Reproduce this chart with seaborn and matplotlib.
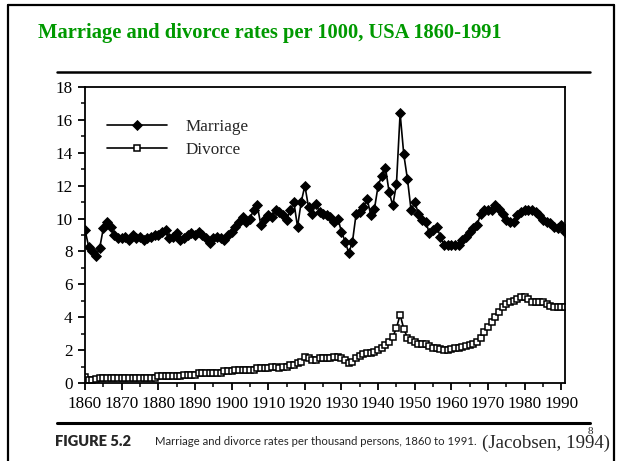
import numpy as np
import pandas as pd
import matplotlib
matplotlib.use("Agg")
import matplotlib.pyplot as plt
from matplotlib.lines import Line2D
from matplotlib.ticker import MultipleLocator
import seaborn as sns

# ---------------- data ----------------
years = list(range(1860, 1992))

marriage = [
    9.3, 8.3, 8.0, 7.7, 8.2, 9.4, 9.8, 9.5, 9.0, 8.8,      # 1860-1869
    8.8, 8.9, 8.7, 9.0, 8.8, 8.9, 8.7, 8.8, 8.9, 9.0,      # 1870-1879
    9.0, 9.2, 9.3, 8.8, 8.9, 9.1, 8.7, 8.8, 9.0, 9.1,      # 1880-1889
    9.0, 9.2, 9.0, 8.8, 8.5, 8.8, 8.9, 8.8, 8.7, 9.0,      # 1890-1899
    9.2, 9.5, 9.8, 10.1, 9.8, 10.0, 10.5, 10.8, 9.6, 10.0, # 1900-1909
    10.2, 10.1, 10.5, 10.4, 10.2, 9.9, 10.5, 11.0, 9.5, 11.0,  # 1910-1919
    12.0, 10.7, 10.3, 10.9, 10.4, 10.3, 10.2, 10.1, 9.8, 10.0, # 1920-1929
    9.2, 8.6, 7.9, 8.6, 10.3, 10.4, 10.7, 11.2, 10.2, 10.6,    # 1930-1939
    12.0, 12.6, 13.1, 11.6, 10.8, 12.1, 16.4, 13.9, 12.4, 10.5, # 1940-1949
    11.0, 10.3, 9.9, 9.8, 9.1, 9.3, 9.5, 8.9, 8.4, 8.4,         # 1950-1959
    8.4, 8.4, 8.4, 8.7, 8.9, 9.2, 9.4, 9.6, 10.3, 10.5,         # 1960-1969
    10.5, 10.5, 10.8, 10.6, 10.3, 9.9, 9.8, 9.8, 10.2, 10.4,    # 1970-1979
    10.5, 10.5, 10.5, 10.4, 10.2, 9.9, 9.8, 9.7, 9.5, 9.4,      # 1980-1989
    9.6, 9.2,                                                   # 1990-1991
]

divorce = [
    0.35, 0.2, 0.2, 0.25, 0.3, 0.3, 0.3, 0.3, 0.3, 0.3,    # 1860-1869
    0.3, 0.3, 0.3, 0.3, 0.3, 0.3, 0.3, 0.3, 0.3, 0.3,      # 1870-1879
    0.4, 0.4, 0.4, 0.4, 0.4, 0.4, 0.4, 0.5, 0.5, 0.5,      # 1880-1889
    0.5, 0.6, 0.6, 0.6, 0.6, 0.6, 0.6, 0.6, 0.7, 0.7,      # 1890-1899
    0.7, 0.8, 0.8, 0.8, 0.8, 0.8, 0.8, 0.9, 0.9, 0.9,      # 1900-1909
    0.9, 1.0, 1.0, 0.9, 1.0, 1.0, 1.1, 1.1, 1.2, 1.3,      # 1910-1919
    1.6, 1.5, 1.4, 1.4, 1.5, 1.5, 1.5, 1.55, 1.6, 1.6,     # 1920-1929
    1.5, 1.4, 1.2, 1.25, 1.5, 1.65, 1.75, 1.8, 1.85, 1.9,  # 1930-1939
    2.0, 2.1, 2.3, 2.5, 2.8, 3.35, 4.15, 3.3, 2.75, 2.6,   # 1940-1949
    2.5, 2.4, 2.4, 2.35, 2.25, 2.15, 2.1, 2.05, 2.0, 2.0,  # 1950-1959
    2.05, 2.1, 2.1, 2.2, 2.25, 2.3, 2.4, 2.5, 2.75, 3.1,   # 1960-1969
    3.4, 3.7, 4.0, 4.3, 4.6, 4.8, 4.95, 5.0, 5.1, 5.25,    # 1970-1979
    5.2, 5.1, 4.95, 4.9, 4.9, 4.9, 4.8, 4.7, 4.65, 4.6,    # 1980-1989
    4.6, 4.6,                                              # 1990-1991
]

x_tick_values = list(range(1860, 1991, 10))
y_tick_values = list(range(0, 19, 2))
series_labels = ["Marriage", "Divorce"]

title_text = "Marriage and divorce rates per 1000, USA 1860-1991"
caption_head = "FIGURE 5.2"
caption_body = "Marriage and divorce rates per thousand persons, 1860 to 1991."
source_text = "(Jacobsen, 1994)"
slide_number = "8"

df = pd.DataFrame({"year": years, "marriage": marriage, "divorce": divorce})

# ---------------- style ----------------
sns.set_style("ticks")
plt.rcParams["font.family"] = ["Liberation Serif", "DejaVu Serif"]
plt.rcParams["axes.linewidth"] = 1.2

fig = plt.figure(figsize=(6.2, 4.61), dpi=100)
ax = fig.add_axes([85 / 620, 1 - 383 / 461, 480 / 620, 296 / 461])

sns.lineplot(data=df, x="year", y="marriage", ax=ax, color="black",
             linewidth=1.2, marker="D", markersize=4.8,
             markerfacecolor="black", markeredgecolor="black",
             markeredgewidth=0.6, label=series_labels[0])
sns.lineplot(data=df, x="year", y="divorce", ax=ax, color="black",
             linewidth=1.2, marker="s", markersize=5.0,
             markerfacecolor="white", markeredgecolor="black",
             markeredgewidth=1.1, label=series_labels[1])

ax.set_xlim(1860, 1991)
ax.set_ylim(0, 18)
ax.set_xticks(x_tick_values)
ax.set_xticklabels([str(v) for v in x_tick_values])
ax.set_yticks(y_tick_values)
ax.set_yticklabels([str(v) for v in y_tick_values])
ax.xaxis.set_minor_locator(MultipleLocator(5))
ax.yaxis.set_minor_locator(MultipleLocator(1))
ax.tick_params(axis="both", which="major", direction="out", length=5,
               width=1.3, labelsize=12.3, colors="black", pad=4)
ax.tick_params(axis="both", which="minor", direction="out", length=3,
               width=1.1, colors="black")
ax.set_xlabel("")
ax.set_ylabel("")
for s in ax.spines.values():
    s.set_visible(True)
    s.set_color("black")
    s.set_linewidth(1.3)

leg = ax.legend(loc="upper left", bbox_to_anchor=(0.046, 0.893),
                frameon=False, fontsize=12.3, handlelength=3.5,
                handletextpad=1.1, labelspacing=0.4, borderpad=0,
                borderaxespad=0, numpoints=1)

# ---------------- slide decorations ----------------
lw_border = 1.6
fig.add_artist(Line2D([8 / 620, 8 / 620], [0, 1 - 5 / 461],
                      transform=fig.transFigure, color="black", lw=lw_border))
fig.add_artist(Line2D([8 / 620, 614 / 620], [1 - 5 / 461, 1 - 5 / 461],
                      transform=fig.transFigure, color="black", lw=lw_border))
fig.add_artist(Line2D([614 / 620, 614 / 620], [0, 1 - 5 / 461],
                      transform=fig.transFigure, color="black", lw=lw_border))
fig.add_artist(Line2D([57 / 620, 590 / 620], [1 - 72 / 461, 1 - 72 / 461],
                      transform=fig.transFigure, color="black", lw=1.8))
fig.add_artist(Line2D([57 / 620, 590 / 620], [1 - 422.5 / 461, 1 - 422.5 / 461],
                      transform=fig.transFigure, color="black", lw=2.2))

fig.text(38 / 620, 1 - 33 / 461, title_text, color="#009900",
         fontsize=14.8, fontweight="bold", va="center", ha="left",
         family=["Liberation Serif"])
fig.text(55 / 620, 1 - 441.5 / 461, caption_head, fontsize=10.5,
         fontweight="heavy", va="center", ha="left", family=["Lato", "DejaVu Sans"])
fig.text(155 / 620, 1 - 441.5 / 461, caption_body, fontsize=8.2,
         va="center", ha="left", family=["Lato", "DejaVu Sans"])
fig.text(482 / 620, 1 - 443 / 461, source_text, fontsize=13.6,
         va="center", ha="left", family=["Liberation Serif"])
fig.text(588 / 620, 1 - 431 / 461, slide_number, fontsize=8,
         va="center", ha="left", family=["Liberation Serif"])

fig.savefig("out.png", dpi=100, facecolor="white")
